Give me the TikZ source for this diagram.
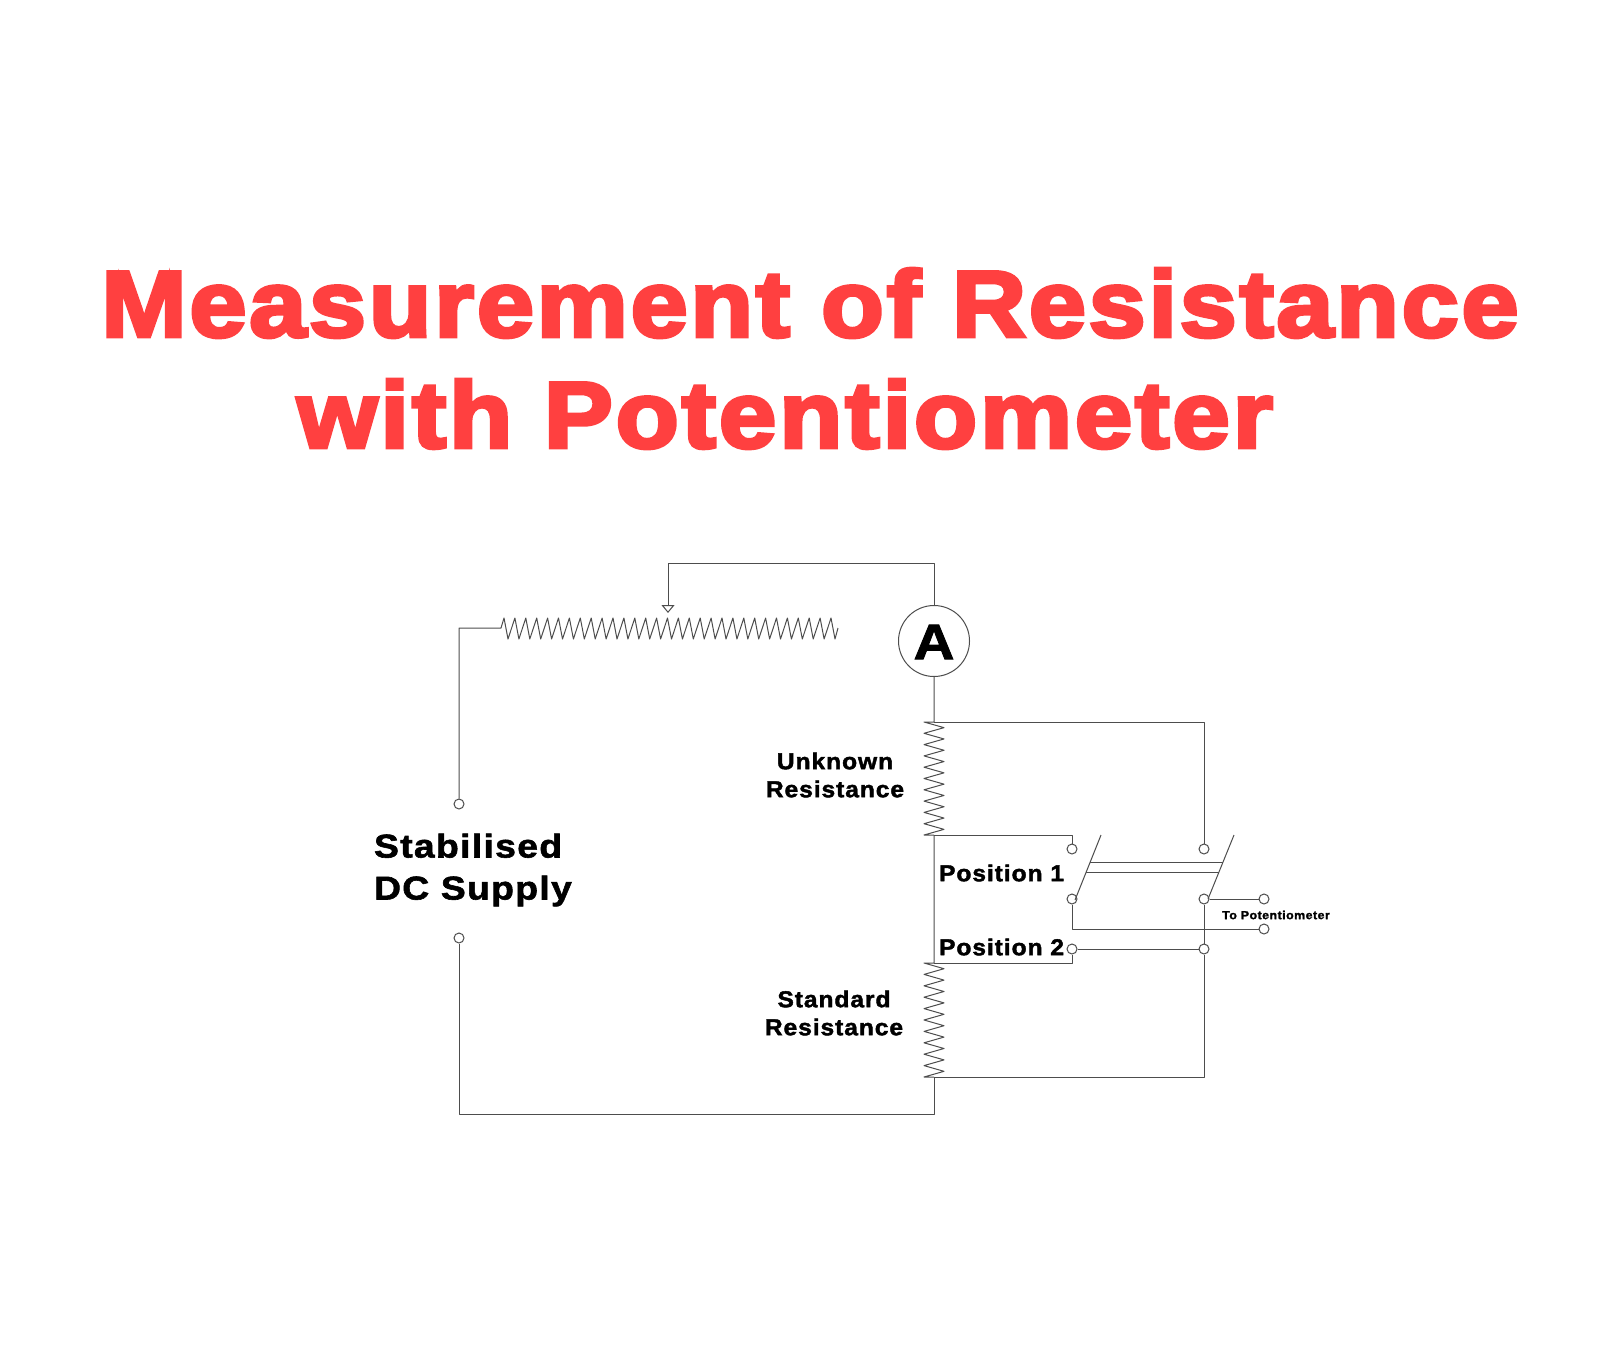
\documentclass[tikz,border=0pt]{standalone}
\usepackage{fontspec}
\setmainfont{Liberation Sans}
\newfontfamily\labelfont{Liberation Sans Bold}[FakeBold=1.8,FakeStretch=1.07,LetterSpace=4]
\newfontfamily\bigfont{Liberation Sans Bold}[FakeBold=1.8,FakeStretch=1.13,LetterSpace=4]
\newfontfamily\titlefont{Liberation Sans Bold}[FakeBold=4,FakeStretch=1.09,LetterSpace=3]
\newfontfamily\titlefontb{Liberation Sans Bold}[FakeBold=4,FakeStretch=1.10,LetterSpace=3]
\usetikzlibrary{arrows.meta}
\definecolor{C0}{HTML}{FF4040}
\definecolor{C1}{HTML}{4D4D4D}

\tikzset{
  wire/.style={C1, line width=0.5pt, line join=round},
  terminal/.style={circle, draw=C1, fill=white, line width=0.5pt, inner sep=0pt, minimum size=5pt},
  maintitle/.style={C0, font=\titlefont\fontsize{47}{54}\selectfont},
  subtitle/.style={C0, font=\titlefontb\fontsize{47}{54}\selectfont},
  biglabel/.style={font=\bigfont\fontsize{16.5}{21}\selectfont, align=left},
  reslabel/.style={font=\labelfont\fontsize{11.5}{14}\selectfont, align=center},
  poslabel/.style={font=\labelfont\fontsize{11.5}{14}\selectfont},
}

\begin{document}
\begin{tikzpicture}[x=0.5pt, y=-0.5pt]
\useasboundingbox (0,0) rectangle (1600,1348);

% title
\node[maintitle] (title1) at (810,303) {Measurement of Resistance};
\node[subtitle] (title2) at (785,414) {with Potentiometer};

% supply
\node[terminal] (supplyTop) at (459,804) {};
\node[terminal] (supplyBot) at (459,938) {};
\node[biglabel, anchor=west] (supply) at (367,870) {Stabilised\\DC Supply};

% ammeter
\node[circle, draw=C1, line width=0.5pt, minimum size=35.5pt, inner sep=0pt] (ammeter) at (934,641) {};
\node[font=\bigfont\fontsize{25}{25}\selectfont] (ammeterA) at (934,642) {A};

\coordinate (wiper) at (668,613);
\coordinate (rheoL) at (501,628);
\coordinate (rheoR) at (838,628);
\coordinate (unkTop) at (934,722);
\coordinate (unkBot) at (934,835);
\coordinate (stdTop) at (934,963);
\coordinate (stdBot) at (934,1077);

% switch terminals
\node[terminal] (t1) at (1072,849) {};
\node[terminal] (t2) at (1072,899) {};
\node[terminal] (t3) at (1072,949) {};
\node[terminal] (t4) at (1204,849) {};
\node[terminal] (t5) at (1204,899) {};
\node[terminal] (t6) at (1204,949) {};
\node[terminal] (potA) at (1264,899) {};
\node[terminal] (potB) at (1264,929) {};

% rheostat
\draw[wire] (supplyTop) |- (rheoL) -- ++(3,-10)
  \foreach \i in {1,...,30}{ -- ++(4,21) -- ++(6.9,-21) } -- ++(4,21) -- (rheoR);
\draw[wire, -{Triangle[open, fill=white, length=4pt, width=6.5pt]}] (ammeter.north) |- (668,563) -- (wiper);

% resistors
\draw[wire] (ammeter.south) -- (unkTop) -- ++(-10,0)
  \foreach \i in {1,...,10}{ -- ++(20,5.65) -- ++(-20,5.65) } -- (unkBot);
\draw[wire] (unkBot) -- (stdTop) -- ++(-10,0)
  \foreach \i in {1,...,10}{ -- ++(20,5.7) -- ++(-20,5.7) } -- (stdBot);
\draw[wire] (stdBot) |- (459,1114) -- (supplyBot);

% switch wiring
\draw[wire] (unkBot) -| (t1);
\draw[wire] (stdTop) -| (t3);
\draw[wire] (unkTop) -| (t4);
\draw[wire] (stdBot) -| (t6);
\draw[wire] (t6) -- (t5);
\draw[wire] (t3) -- (t6);
\draw[wire] (t5) -- (potA);
\draw[wire] (t2) |- (potB);

% blades
\coordinate (hingeL) at (1075,900);
\coordinate (hingeR) at (1208,899);
\coordinate (bladeL) at (1101,835);
\coordinate (bladeR) at (1234,835);
\draw[wire] (hingeL) -- (bladeL);
\draw[wire] (hingeR) -- (bladeR);
\draw[wire] (1090,862) -- (1223,862);
\draw[wire] (1086,872) -- (1219,872);

% labels
\node[reslabel] (unknown) at (835,775) {Unknown\\Resistance};
\node[reslabel] (standard) at (834,1013) {Standard\\Resistance};
\node[poslabel, anchor=west] (pos1) at (932,873) {Position 1};
\node[poslabel, anchor=west] (pos2) at (932,947) {Position 2};
\node[font=\labelfont\fontsize{5.8}{7}\selectfont] (toPot) at (1276,915) {To Potentiometer};

\end{tikzpicture}
\end{document}
